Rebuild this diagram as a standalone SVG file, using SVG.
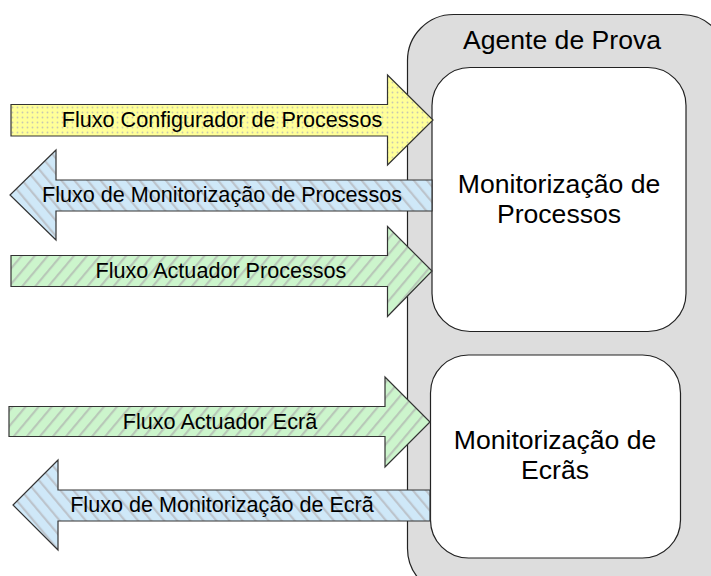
<svg xmlns="http://www.w3.org/2000/svg" width="711" height="576" viewBox="0 0 711 576">
<defs>
<pattern id="dots" width="5" height="5" patternUnits="userSpaceOnUse">
<rect width="5" height="5" fill="#ffff99"/>
<circle cx="2.5" cy="2.5" r="0.9" fill="#c8c8b0"/>
</pattern>
<pattern id="green" width="10" height="10" patternUnits="userSpaceOnUse" patternTransform="rotate(40)">
<rect width="10" height="10" fill="#ccf5cc"/>
<rect x="0" y="0" width="2.2" height="10" fill="#b8c8b8"/>
</pattern>
<pattern id="blue" width="10" height="10" patternUnits="userSpaceOnUse" patternTransform="rotate(-40)">
<rect width="10" height="10" fill="#cfe8f8"/>
<rect x="0" y="0" width="2.2" height="10" fill="#bcc4cc"/>
</pattern>
</defs>
<style>
.box{stroke:#222;stroke-width:1.2}
.arr{stroke:#333;stroke-width:1.2;stroke-linejoin:miter}
text{font-family:"Liberation Sans",Arial,sans-serif;fill:#000;text-anchor:middle}
.lbl{font-size:21.6px}
.big{font-size:26.6px}
</style>
<g id="agente">
<rect class="box" x="407.5" y="14.5" width="320" height="580" rx="46" ry="46" fill="#dddddd"/>
<text class="big" x="562" y="49">Agente de Prova</text>
</g>
<g id="monit-processos">
<rect class="box" x="432" y="67.5" width="254" height="264" rx="38" ry="38" fill="#ffffff"/>
<text class="big" x="559" y="193">Monitorização de</text>
<text class="big" x="559" y="223">Processos</text>
</g>
<g id="monit-ecras">
<rect class="box" x="430.5" y="355" width="250" height="203" rx="38" ry="38" fill="#ffffff"/>
<text class="big" x="555" y="449">Monitorização de</text>
<text class="big" x="555" y="479">Ecrãs</text>
</g>
<g id="connectors">
<g id="fluxo-configurador">
<path class="arr" fill="url(#dots)" d="M11,104.5 H387.5 V75 L433,120 L387.5,165 V136 H11 Z"/>
<text class="lbl" x="222" y="127">Fluxo Configurador de Processos</text>
</g>
<g id="fluxo-monit-processos">
<path class="arr" fill="url(#blue)" d="M432,180 H56 V150 L10,195 L56,240 V211 H432 Z"/>
<text class="lbl" x="222" y="202">Fluxo de Monitorização de Processos</text>
</g>
<g id="fluxo-actuador-processos">
<path class="arr" fill="url(#green)" d="M11,255.5 H387.5 V226.5 L432,271 L387.5,316.5 V286.5 H11 Z"/>
<text class="lbl" x="221" y="278">Fluxo Actuador Processos</text>
</g>
<g id="fluxo-actuador-ecra">
<path class="arr" fill="url(#green)" d="M9,406.5 H385 V377 L430,422 L385,467 V436.5 H9 Z"/>
<text class="lbl" x="220" y="429">Fluxo Actuador Ecrã</text>
</g>
<g id="fluxo-monit-ecra">
<path class="arr" fill="url(#blue)" d="M430,490 H58 V460 L13,505 L58,550 V521 H430 Z"/>
<text class="lbl" x="222" y="512">Fluxo de Monitorização de Ecrã</text>
</g>
</g>
</svg>
